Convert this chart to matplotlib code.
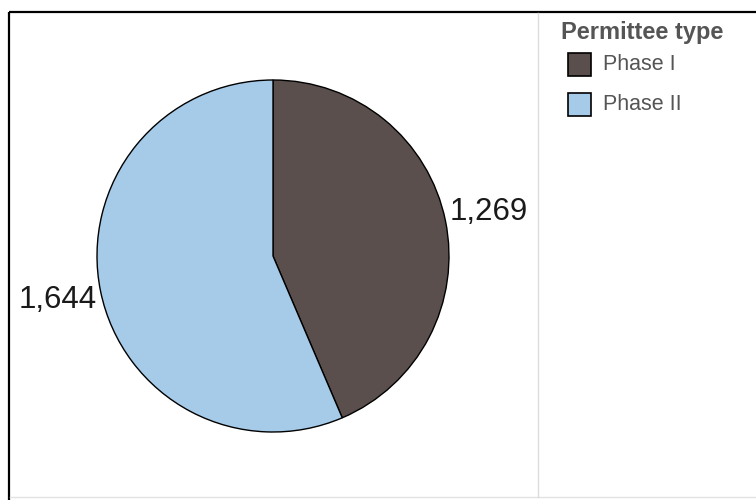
import matplotlib
matplotlib.use('Agg')
import matplotlib.pyplot as plt
from matplotlib.patches import Rectangle

# Données
categories = ['Phase I', 'Phase II']
valeurs = [1269, 1644]
couleurs = ['#5a4f4c', '#a5cbe9']
titre_legende = 'Permittee type'

plt.rcParams['font.family'] = ['Liberation Sans', 'DejaVu Sans']

W, H = 756, 500
fig = plt.figure(figsize=(W / 100, H / 100), dpi=100)
ax = fig.add_axes([0, 0, 1, 1])

# Cadre
ax.plot([9, W], [H - 12, H - 12], color='black', lw=1.6, solid_capstyle='butt')
ax.plot([9, 9], [H - 12, 0], color='black', lw=1.6, solid_capstyle='butt')
ax.plot([10, W], [3, 3], color='#e2e2e2', lw=1)
ax.plot([538, 538], [H - 13, 3], color='#dcdcdc', lw=1)

# Camembert
wedges, texts = ax.pie(valeurs, colors=couleurs, startangle=90, counterclock=False,
                       center=(273, H - 256), radius=176,
                       labels=['{:,}'.format(v) for v in valeurs],
                       labeldistance=1.25, frame=True,
                       wedgeprops=dict(edgecolor='black', linewidth=1.0),
                       textprops=dict(fontsize=22.5, color='#1a1a1a'))
for t in texts:
    t.set_ha('center')
ax.set_xlim(0, W)
ax.set_ylim(0, H)
ax.axis('off')

# Légende
ax.text(561, H - 32, titre_legende, fontsize=17, fontweight='bold',
        color='#555555', va='center', ha='left')
for i, (cat, coul) in enumerate(zip(categories, couleurs)):
    y = H - 64 - 40 * i
    ax.add_patch(Rectangle((568, y - 12), 23, 23, facecolor=coul,
                           edgecolor='black', lw=1.2))
    ax.text(603, y, cat, fontsize=15.5, color='#555555', va='center', ha='left')

fig.savefig('out.png', dpi=100)
